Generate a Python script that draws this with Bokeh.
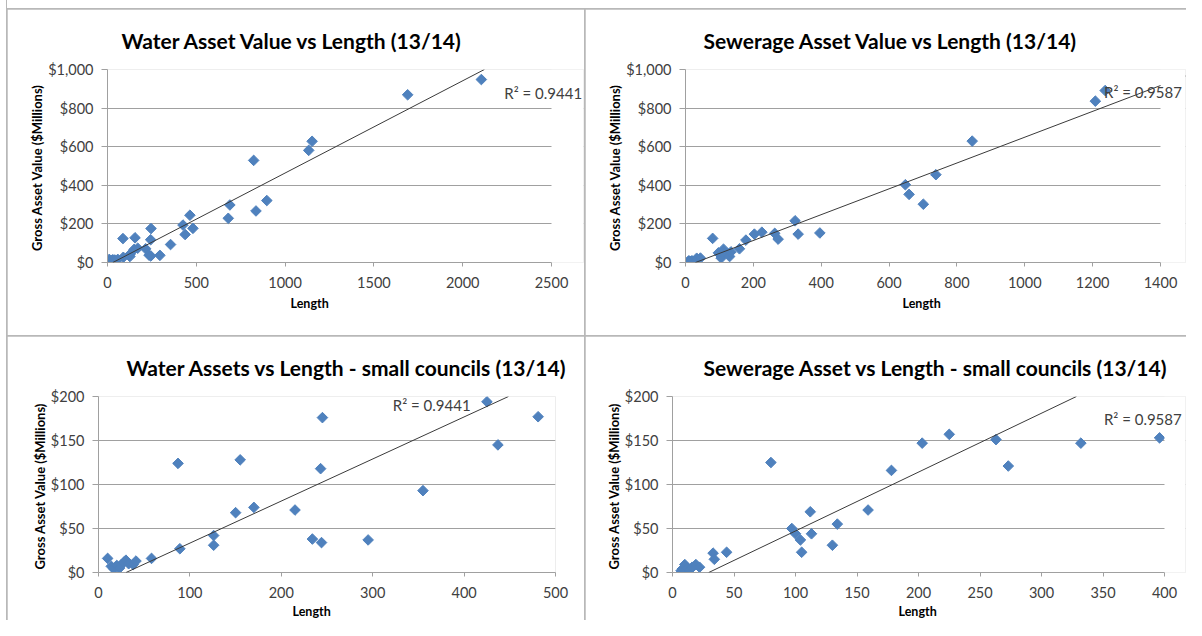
import numpy as np
from bokeh.plotting import figure
from bokeh.layouts import row, column
from bokeh.models import (Range1d, FixedTicker, NumeralTickFormatter, Slope, Label,
                          Spacer, Title, BoxAnnotation)
from bokeh.embed import file_html
from bokeh.resources import INLINE

# ---------------- data ----------------
water_length = [10, 14, 17, 20, 23, 25, 28, 30, 33, 38, 41, 58, 87, 89, 126, 126, 150, 155,
                170, 215, 234, 243, 244, 245, 295, 355, 425, 437, 464, 481, 680, 689, 823,
                836, 897, 1133, 1152, 1690, 2105]
water_value = [16, 7, 4, 8, 5, 9, 12, 14, 10, 9, 13, 16, 124, 27, 42, 31, 68, 128,
               74, 71, 38, 118, 34, 176, 37, 93, 194, 145, 245, 177, 229, 298, 529,
               267, 321, 581, 628, 869, 948]

sewer_length = [7, 8, 10, 12, 14, 16, 19, 22, 33, 34, 44, 80, 97, 100, 104, 105, 112, 113,
                130, 134, 159, 178, 203, 225, 263, 273, 323, 332, 396, 648, 659, 701, 738,
                845, 1208, 1237]
sewer_value = [2, 4, 9, 5, 3, 6, 9, 6, 22, 15, 23, 125, 50, 44, 37, 23, 69, 44,
               31, 55, 71, 116, 147, 157, 151, 121, 216, 147, 153, 403, 353, 302, 455,
               629, 836, 891]

water_trend = {"slope": 0.478, "intercept": -14.4}
sewer_trend = {"slope": 0.669, "intercept": -19.7}
water_r2 = "R\u00b2 = 0.9441"
sewer_r2 = "R\u00b2 = 0.9587"

titles = ["Water Asset Value vs Length (13/14)",
          "Sewerage Asset Value vs Length (13/14)",
          "Water Assets vs Length - small councils (13/14)",
          "Sewerage Asset vs Length - small councils (13/14)"]

x_ticks_water_all = [0, 500, 1000, 1500, 2000, 2500]
x_ticks_sewer_all = [0, 200, 400, 600, 800, 1000, 1200, 1400]
x_ticks_water_small = [0, 100, 200, 300, 400, 500]
x_ticks_sewer_small = [0, 50, 100, 150, 200, 250, 300, 350, 400]
y_ticks_all = [0, 200, 400, 600, 800, 1000]
y_ticks_small = [0, 50, 100, 150, 200]

x_label = "Length"
y_label = "Gross Asset Value  ($Millions)"

# ---------------- styling ----------------
FONT = "Lato"
BLUE = "#4F81BD"
TXT = "#404040"
BORDER = "#b8b8b8"


def panel(width, height, left, plot_w, extra, top, bottom, title, title_off,
          xlab_off, xlab_standoff, xs, ys, x_ticks, y_ticks, trend, r2_text, r2_pos,
          r2_align):
    right = width - left - plot_w - extra
    x_end = x_ticks[-1] * (plot_w + extra) / plot_w
    p = figure(width=width, height=height, output_backend="svg", toolbar_location=None,
               x_range=Range1d(0, x_end), y_range=Range1d(0, y_ticks[-1]),
               min_border_left=left, min_border_right=right,
               min_border_top=top, min_border_bottom=bottom)
    p.background_fill_color = "white"
    p.border_fill_color = "white"
    p.outline_line_color = None

    p.title = Title(text=title, align="left", offset=title_off, text_font=FONT,
                    text_font_size="21px", text_font_style="bold", text_color="black",
                    standoff=33)

    for ax, ticks in ((p.xaxis, x_ticks), (p.yaxis, y_ticks)):
        ax.ticker = FixedTicker(ticks=ticks)
        ax.major_label_text_font = FONT
        ax.major_label_text_font_size = "14.5px"
        ax.major_label_text_color = TXT
        ax.axis_line_color = "#a0a0a0"
        ax.major_tick_line_color = "#a0a0a0"
        ax.major_tick_in = 0
        ax.minor_tick_out = 0
        ax.minor_tick_in = 0
    p.xaxis.major_tick_out = 4
    p.xaxis.major_label_standoff = 10
    p.yaxis.major_tick_out = 6
    p.yaxis.major_label_standoff = 8
    p.xaxis.bounds = (0, x_ticks[-1])
    p.yaxis.axis_label = y_label
    p.yaxis.axis_label_text_font = FONT
    p.yaxis.axis_label_text_font_size = "13px"
    p.yaxis.axis_label_text_font_style = "bold"
    p.yaxis.axis_label_text_color = "black"
    p.yaxis.axis_label_standoff = 0
    p.yaxis.formatter = NumeralTickFormatter(format="$0,0")

    p.add_layout(Title(text=x_label, align="left", offset=xlab_off, text_font=FONT,
                       text_font_size="12.5px", text_font_style="bold",
                       text_color="black", standoff=xlab_standoff), "below")

    p.xgrid.visible = False
    p.ygrid.grid_line_color = "#a0a0a0"
    p.ygrid.grid_line_width = 1

    p.add_layout(Slope(gradient=trend["slope"], y_intercept=trend["intercept"],
                       line_color="#3a3a3a", line_width=1))
    p.scatter(xs, ys, marker="square", angle=np.pi / 4, size=7.5,
              fill_color=BLUE, line_color=BLUE)
    if extra > 0:
        p.add_layout(BoxAnnotation(left=x_ticks[-1], fill_color="white", fill_alpha=1,
                                   line_color=None))
    p.add_layout(Label(x=r2_pos[0], y=r2_pos[1], text=r2_text, text_font=FONT,
                       text_font_size="15px", text_color=TXT, text_baseline="middle",
                       text_align=r2_align))
    return p


p1 = panel(577, 326, 100, 444, 32, 59, 73, titles[0], 14, 183, 6, water_length,
           water_value, x_ticks_water_all, y_ticks_all, water_trend, water_r2,
           (2234, 880), "left")
p2 = panel(601, 326, 100, 475, 25, 59, 73, titles[1], 18, 217, 6, sewer_length,
           sewer_value, x_ticks_sewer_all, y_ticks_all, sewer_trend, sewer_r2,
           (1463, 885), "right")
p3 = panel(577, 284, 91, 457, 0, 60, 48, titles[2], 28, 194, 3, water_length,
           water_value, x_ticks_water_small, y_ticks_small, water_trend, water_r2,
           (322, 190), "left")
p4 = panel(601, 284, 87, 492, 21, 60, 48, titles[3], 31, 226, 3, sewer_length,
           sewer_value, x_ticks_sewer_small, y_ticks_small, sewer_trend, sewer_r2,
           (414, 174), "right")

inner = column(Spacer(width=1179, height=8, styles={"background-color": "white"}),
               row(p1, p2, spacing=1),
               row(p3, p4, spacing=1),
               spacing=1, styles={"background-color": BORDER})
layout = row(Spacer(width=6, height=620, styles={"background-color": "white"}), inner,
             spacing=1, styles={"background-color": BORDER})

open("out.html", "w").write(file_html(layout, INLINE))
